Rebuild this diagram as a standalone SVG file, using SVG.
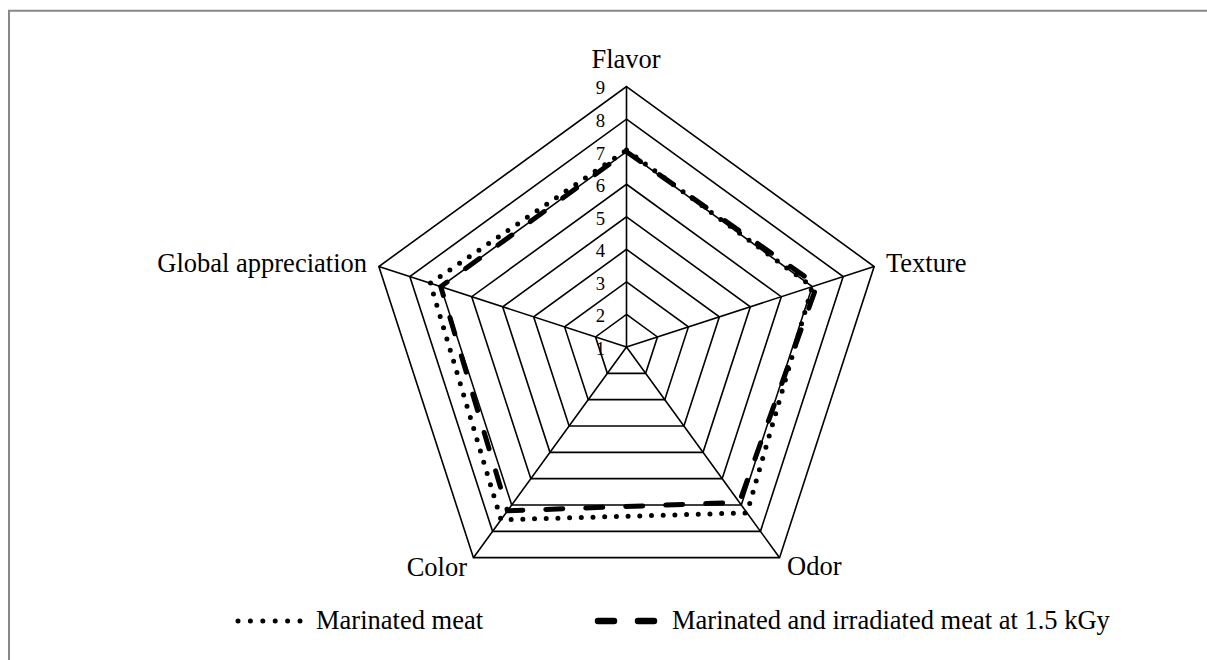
<svg xmlns="http://www.w3.org/2000/svg" width="1207" height="660" viewBox="0 0 1207 660">
<style>
text{font-family:"Liberation Serif","Times New Roman",serif;fill:#000}
.lab{font-size:26.5px}
.tick{font-size:18.7px;text-anchor:end}
.grid{fill:none;stroke:#000;stroke-width:1.6;stroke-linejoin:miter}
.dot{fill:none;stroke:#000;stroke-width:5;stroke-linecap:round;stroke-dasharray:0 11.7}
.dash{fill:none;stroke:#000;stroke-width:5;stroke-linecap:round;stroke-dasharray:17 23}
</style>
<rect width="1207" height="660" fill="#fff"/>
<path d="M9,660 V10.8 H1207" fill="none" stroke="#888" stroke-width="2"/>
<g id="grid" transform="translate(626.5,347)">
<polygon class="grid" points="0,-32.55 30.96,-10.06 19.13,26.33 -19.13,26.33 -30.96,-10.06"/>
<polygon class="grid" points="0,-65.1 61.91,-20.12 38.27,52.67 -38.27,52.67 -61.91,-20.12"/>
<polygon class="grid" points="0,-97.65 92.87,-30.18 57.40,79.00 -57.40,79.00 -92.87,-30.18"/>
<polygon class="grid" points="0,-130.2 123.83,-40.23 76.53,105.33 -76.53,105.33 -123.83,-40.23"/>
<polygon class="grid" points="0,-162.75 154.78,-50.29 95.66,131.67 -95.66,131.67 -154.78,-50.29"/>
<polygon class="grid" points="0,-195.3 185.74,-60.35 114.79,158.00 -114.79,158.00 -185.74,-60.35"/>
<polygon class="grid" points="0,-227.85 216.70,-70.41 133.93,184.34 -133.93,184.34 -216.70,-70.41"/>
<polygon class="grid" points="0,-260.4 247.66,-80.47 153.06,210.67 -153.06,210.67 -247.66,-80.47"/>
<path class="grid" d="M0,0 V-260.4 M0,0 L247.66,-80.47 M0,0 L153.06,210.67 M0,0 L-153.06,210.67 M0,0 L-247.66,-80.47"/>
</g>
<g id="ticks">
<text class="tick" x="605" y="94">9</text>
<text class="tick" x="605" y="127">8</text>
<text class="tick" x="605" y="159.5">7</text>
<text class="tick" x="605" y="192">6</text>
<text class="tick" x="605" y="224.5">5</text>
<text class="tick" x="605" y="257">4</text>
<text class="tick" x="605" y="289.5">3</text>
<text class="tick" x="605" y="322">2</text>
<text class="tick" x="605" y="354.5">1</text>
</g>
<g id="axis-flavor"><text class="lab" x="626" y="68" text-anchor="middle">Flavor</text></g>
<g id="axis-texture"><text class="lab" x="886" y="272">Texture</text></g>
<g id="axis-odor"><text class="lab" x="787" y="575">Odor</text></g>
<g id="axis-color"><text class="lab" x="467" y="575.5" text-anchor="end">Color</text></g>
<g id="axis-global"><text class="lab" x="367" y="272" text-anchor="end">Global appreciation</text></g>
<g id="series" transform="translate(626.5,347)">
<polygon id="marinated" class="dot" points="0,-196.93 185.74,-60.35 120.54,165.90 -125.51,172.75 -196.27,-63.77"/>
<polygon id="irradiated" class="dash" points="0,-195.3 190.5,-61.9 112.89,155.37 -119.00,163.80 -185.74,-60.35"/>
</g>
<g id="legend">
<path d="M238,621 H300" fill="none" stroke="#000" stroke-width="5" stroke-linecap="round" stroke-dasharray="0 12.4"/>
<text class="lab" x="316" y="629">Marinated meat</text>
<path d="M598,621 H654" fill="none" stroke="#000" stroke-width="6.5" stroke-linecap="round" stroke-dasharray="16 24"/>
<text class="lab" x="672" y="629">Marinated and irradiated meat at 1.5 kGy</text>
</g>
</svg>
